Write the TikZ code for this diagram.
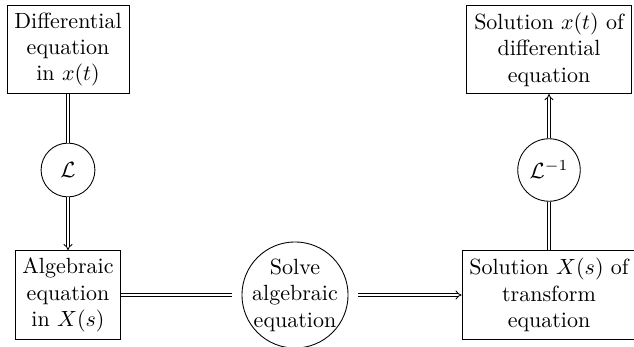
\documentclass[tikz,border=0pt]{standalone}
\usetikzlibrary{arrows.meta}
\begin{document}
\begin{tikzpicture}[x=0.01597cm,y=-0.01597cm,
  box/.style={draw,align=center},
  trans/.style={draw,circle,minimum size=0.86cm},
  link/.style={double,double distance=1pt},
  flow/.style={link,-{Implies}}]
\useasboundingbox (0,0) rectangle (634,347);
\node[box] (deq) at (68,49.5) {Differential\\equation\\in $x(t)$};
\node[trans] (lap) at (68,170) {$\mathcal{L}$};
\node[box] (alg) at (68,295) {Algebraic\\equation\\in $X(s)$};
\node[draw,circle,align=center,inner sep=-1pt,outer sep=4.5pt] (solve) at (295,295) {Solve\\algebraic\\equation};
\node[box] (tsol) at (549,295) {Solution $X(s)$ of\\transform\\equation};
\node[trans] (ilap) at (549,170) {$\mathcal{L}^{-1}$};
\node[box] (xsol) at (549,49.5) {Solution $x(t)$ of\\differential\\equation};
\draw[link] (deq) -- (lap);
\draw[flow] (lap) -- (alg);
\draw[link] (alg) -- (solve);
\draw[flow] (solve) -- (tsol);
\draw[link] (tsol) -- (ilap);
\draw[flow] (ilap) -- (xsol);
\end{tikzpicture}
\end{document}
